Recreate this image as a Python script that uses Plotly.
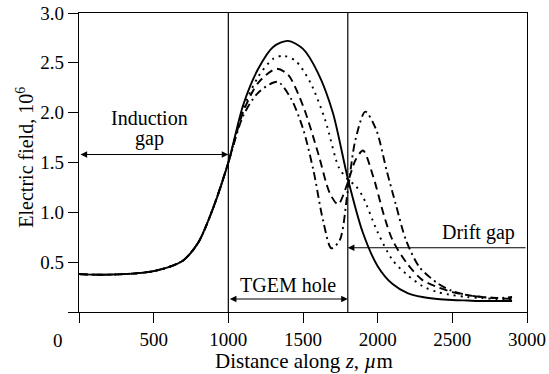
import plotly.graph_objects as go

# Field profiles along z (µm) for four hole geometries; all share the induction-gap rise
base_z = [0, 100, 200, 300, 400, 500, 600, 700, 800, 900, 1000]
base_e = [0.38, 0.375, 0.375, 0.38, 0.39, 0.41, 0.45, 0.52, 0.70, 1.05, 1.50]

solid_z = base_z + [1100, 1200, 1300, 1400, 1500, 1600, 1700, 1800, 1900, 2000,
                    2100, 2200, 2300, 2400, 2500, 2600, 2700, 2800, 2900]
solid_e = base_e + [2.08, 2.44, 2.66, 2.72, 2.64, 2.40, 2.00, 1.34, 0.80, 0.46,
                    0.28, 0.19, 0.15, 0.13, 0.12, 0.115, 0.11, 0.11, 0.11]

dot_z = base_z + [1100, 1200, 1300, 1367, 1450, 1550, 1650, 1740, 1800, 1850, 1900,
                  2000, 2100, 2200, 2300, 2400, 2500, 2600, 2700, 2800, 2900]
dot_e = base_e + [2.04, 2.36, 2.54, 2.57, 2.52, 2.30, 1.92, 1.45, 1.33, 1.27, 1.16,
                  0.80, 0.52, 0.37, 0.26, 0.20, 0.17, 0.15, 0.14, 0.13, 0.13]

dash_z = base_z + [1100, 1200, 1322, 1400, 1500, 1600, 1680, 1735, 1800, 1850, 1902,
                   1970, 2040, 2100, 2200, 2300, 2400, 2500, 2600, 2700, 2800, 2900]
dash_e = base_e + [2.01, 2.30, 2.44, 2.38, 2.07, 1.60, 1.19, 1.08, 1.30, 1.52, 1.62,
                   1.36, 0.98, 0.72, 0.48, 0.32, 0.25, 0.20, 0.17, 0.15, 0.14, 0.13]

dashdot_z = base_z + [1100, 1200, 1329, 1420, 1500, 1570, 1634, 1690, 1746, 1800, 1850,
                      1917, 1990, 2060, 2125, 2190, 2280, 2400, 2500, 2600, 2700, 2800, 2900]
dashdot_e = base_e + [1.97, 2.20, 2.31, 2.14, 1.84, 1.42, 0.92, 0.64, 0.72, 1.22, 1.72,
                      2.01, 1.83, 1.42, 1.06, 0.72, 0.45, 0.29, 0.21, 0.17, 0.15, 0.14, 0.15]

x_ticks = [0, 500, 1000, 1500, 2000, 2500, 3000]
x_ticktext = ["", "500", "1000", "1500", "2000", "2500", "3000"]
y_ticks = [0, 0.5, 1.0, 1.5, 2.0, 2.5, 3.0]
y_ticktext = ["", "0.5", "1.0", "1.5", "2.0", "2.5", "3.0"]

hole_start, hole_end = 1000, 1800

FONT = "Liberation Serif"
fig = go.Figure()

styles = [
    (solid_z, solid_e, "solid"),
    (dot_z, dot_e, "2px,5px"),
    (dash_z, dash_e, "8px,5px"),
    (dashdot_z, dashdot_e, "8px,4px,2px,4px"),
]
for z, e, dash in styles:
    fig.add_trace(go.Scatter(
        x=z, y=e, mode="lines",
        line=dict(color="black", width=1.9, dash=dash, shape="spline", smoothing=0.8),
        showlegend=False, hoverinfo="skip",
    ))

# hole boundaries
for xv in (hole_start, hole_end):
    fig.add_shape(type="line", x0=xv, x1=xv, y0=0, y1=3.0, xref="x", yref="y",
                  line=dict(color="black", width=1.2))

arrow = dict(showarrow=True, arrowhead=2, arrowsize=1.2, arrowwidth=1.1,
             arrowcolor="black", axref="x", ayref="y", standoff=0, startstandoff=0, text="")
label = dict(showarrow=False, xanchor="center", yanchor="middle")
label_font = dict(family=FONT, size=20, color="black")

# Induction gap
fig.add_annotation(x=hole_start, y=1.58, ax=0, ay=1.58, arrowside="end+start", **arrow)
fig.add_annotation(x=470, y=1.95, text="Induction", font=label_font, **label)
fig.add_annotation(x=470, y=1.74, text="gap", font=label_font, **label)

# TGEM hole
fig.add_annotation(x=hole_end, y=0.13, ax=hole_start, ay=0.13, arrowside="end+start", **arrow)
fig.add_annotation(x=1398, y=0.27, text="TGEM hole", font=label_font, **label)

# Drift gap
fig.add_annotation(x=hole_end, y=0.645, ax=3000, ay=0.645, arrowside="end", **arrow)
fig.add_annotation(x=2676, y=0.795, text="Drift gap", font=label_font, **label)

# origin label
fig.add_annotation(x=-0.047, y=-0.094, xref="paper", yref="paper", text="0",
                   font=dict(family=FONT, size=19, color="black"), **label)

# axis titles
fig.add_annotation(x=0.5025, y=-0.163, xref="paper", yref="paper",
                   text="Distance along <i>z</i>, <i>µ</i>m",
                   font=dict(family=FONT, size=21, color="black"), **label)
fig.add_annotation(x=-0.12, y=0.517, xref="paper", yref="paper", textangle=-90,
                   text="Electric field, 10<sup>6</sup>",
                   font=dict(family=FONT, size=20, color="black"), **label)

axis_common = dict(
    showgrid=False, zeroline=False, showline=True, linecolor="black", linewidth=1.2,
    mirror=True, ticks="outside", ticklen=10, tickwidth=1.2, tickcolor="black",
    tickfont=dict(family=FONT, size=19, color="black"), automargin=False,
)
fig.update_xaxes(range=[0, 3000], tickvals=x_ticks, ticktext=x_ticktext, **axis_common)
fig.update_yaxes(range=[0, 3.0], tickvals=y_ticks, ticktext=y_ticktext, **axis_common)

fig.update_layout(
    width=549, height=374,
    margin=dict(l=79, r=22, t=13, b=62, autoexpand=False),
    paper_bgcolor="white", plot_bgcolor="white",
    font=dict(family=FONT, color="black"),
)

fig.write_html("out.html")
